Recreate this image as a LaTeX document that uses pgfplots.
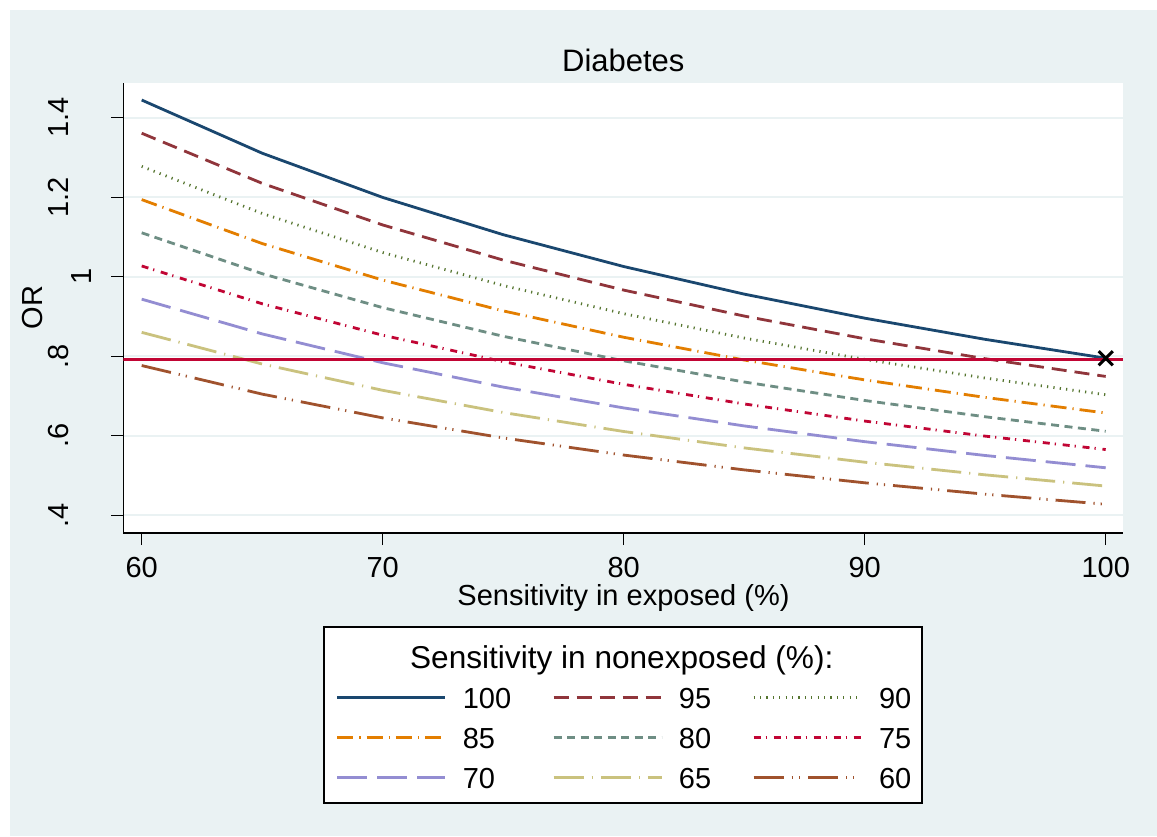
\documentclass[border=0pt]{standalone}
\usepackage{pgfplots}
\usepackage{pgfplotstable}
\pgfplotsset{compat=1.18}
\usepackage{fontspec}
\setmainfont{Liberation Sans}
\definecolor{bgc}{HTML}{EAF2F3}
\definecolor{snavy}{HTML}{1A476F}
\definecolor{smaroon}{HTML}{90353B}
\definecolor{sgreen}{HTML}{55752F}
\definecolor{sorange}{HTML}{E37E00}
\definecolor{steal}{HTML}{6E8E84}
\definecolor{scran}{HTML}{C10534}
\definecolor{slav}{HTML}{938DD2}
\definecolor{skhaki}{HTML}{CAC27E}
\definecolor{ssienna}{HTML}{A0522D}

\pgfplotstableread{
x s100 s95 s90 s85 s80 s75 s70 s65 s60
60 1.4445 1.3610 1.2775 1.1940 1.1105 1.0270 0.9435 0.8600 0.7765
65 1.3107 1.2349 1.1591 1.0834 1.0076 0.9319 0.8561 0.7803 0.7046
70 1.1995 1.1302 1.0608 0.9915 0.9222 0.8528 0.7835 0.7142 0.6448
75 1.1057 1.0418 0.9779 0.9140 0.8501 0.7862 0.7223 0.6583 0.5944
80 1.0256 0.9663 0.9070 0.8477 0.7884 0.7292 0.6699 0.6106 0.5513
85 0.9562 0.9010 0.8457 0.7904 0.7351 0.6799 0.6246 0.5693 0.5140
90 0.8957 0.8439 0.7921 0.7404 0.6886 0.6368 0.5850 0.5333 0.4815
95 0.8424 0.7937 0.7450 0.6963 0.6476 0.5989 0.5502 0.5015 0.4528
100 0.7950 0.7491 0.7031 0.6571 0.6112 0.5652 0.5193 0.4733 0.4274
}\datatable

\begin{document}
\begin{tikzpicture}
\useasboundingbox (0pt,0pt) rectangle (578.5pt,418pt);
\fill[white] (0pt,0pt) rectangle (578.5pt,418pt);
\fill[bgc] (5pt,0pt) rectangle (578.5pt,413pt);
\draw[fill=white, line width=0.6pt] (162pt,16.5pt) rectangle (461pt,104.5pt);
\begin{axis}[
  at={(61.65pt,151.5pt)}, anchor=south west,
  scale only axis, width=500pt, height=224.85pt,
  xmin=59.237, xmax=100.73, ymin=0.3552, ymax=1.4866,
  axis x line*=bottom, axis y line*=left,
  axis line style={line width=0.7pt, -},
  xtick={60,70,80,90,100},
  ytick={0.4,0.6,0.8,1,1.2,1.4},
  yticklabels={.4,.6,.8,\raisebox{-11.5pt}[\height][0pt]{1},1.2,1.4},
  tick align=outside, major tick length=6pt,
  minor tick num=0,
  tick style={line width=0.6pt, black},
  ymajorgrids, grid style={draw=bgc, line width=1pt},
  axis background/.style={fill=white},
  ticklabel style={font=\fontsize{14.5}{17}\selectfont},
  /pgf/number format/assume math mode=true,
  xticklabel style={anchor=north, inner sep=0pt},
  yticklabel style={rotate=90, anchor=south, inner sep=0pt},
  xticklabel shift=6pt, yticklabel shift=21pt,
  legend columns=3,
  legend image code/.code={\draw[#1] (0pt,5.2pt) -- (54pt,5.2pt);},
  legend style={
    at={(0.2127,-0.3429)}, anchor=north west,
    draw=none, fill=none, inner sep=0pt, outer sep=0pt,
    nodes={inner sep=0pt, text height=10.4pt, text depth=0pt, anchor=base west, font=\fontsize{14.5}{17}\selectfont},
    cells={anchor=base west},
    row sep=9.6pt,
    /tikz/every odd column/.style={column sep=8pt},
    /tikz/every even column/.style={column sep=20.5pt},
  },
]
\addplot[snavy, line width=1.4pt] table[x=x,y=s100]{\datatable};
\addlegendentry{100}
\addplot[smaroon, line width=1.4pt, dash pattern=on 7.5pt off 4pt] table[x=x,y=s95]{\datatable};
\addlegendentry{95}
\addplot[sgreen, line width=1.4pt, dash pattern=on 0.6pt off 2.6pt] table[x=x,y=s90]{\datatable};
\addlegendentry{90}
\addplot[sorange, line width=1.4pt, dash pattern=on 8pt off 3pt on 0.6pt off 3pt] table[x=x,y=s85]{\datatable};
\addlegendentry{85}
\addplot[steal, line width=1.4pt, dash pattern=on 4pt off 2.75pt] table[x=x,y=s80]{\datatable};
\addlegendentry{80}
\addplot[scran, line width=1.4pt, dash pattern=on 3.5pt off 2.5pt on 0.6pt off 3.4pt] table[x=x,y=s75]{\datatable};
\addlegendentry{75}
\addplot[slav, line width=1.4pt, dash pattern=on 15pt off 5pt] table[x=x,y=s70]{\datatable};
\addlegendentry{70}
\addplot[skhaki, line width=1.4pt, dash pattern=on 15pt off 4pt on 0.6pt off 4pt] table[x=x,y=s65]{\datatable};
\addlegendentry{65}
\addplot[ssienna, line width=1.4pt, dash pattern=on 15pt off 4pt on 0.6pt off 3pt on 0.6pt off 4pt] table[x=x,y=s60]{\datatable};
\addlegendentry{60}
\addplot[scran, line width=1.4pt, forget plot] coordinates {(59.237,0.792) (100.73,0.792)};
\addplot[only marks, mark=x, mark size=5pt, line width=1.5pt, black, forget plot] coordinates {(100,0.795)};
\end{axis}
\node[anchor=base, font=\fontsize{15.5}{18}\selectfont] at (311.65pt,382pt) {Diabetes};
\node[anchor=base, font=\fontsize{14.5}{17}\selectfont] at (311.75pt,115pt) {Sensitivity in exposed (\%)};
\node[rotate=90, anchor=center, inner sep=0pt, font=\fontsize{14.5}{17}\selectfont] at (16.25pt,264.25pt) {OR};
\node[anchor=base, font=\fontsize{15.8}{19}\selectfont] at (310.9pt,84pt) {Sensitivity in nonexposed (\%):};
\end{tikzpicture}
\end{document}
